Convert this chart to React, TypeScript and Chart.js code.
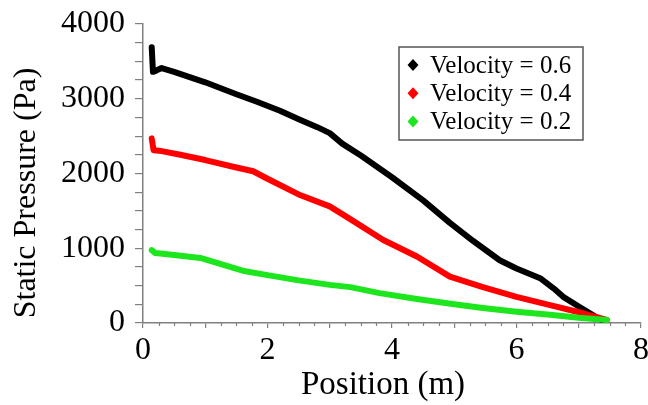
import React, { useEffect, useRef } from "react";
import { Chart, registerables } from "chart.js";

Chart.register(...registerables);

const seriesLabels = ["Velocity = 0.6", "Velocity = 0.4", "Velocity = 0.2"];
const seriesColors = ["#000000", "#ff0000", "#1ee61e"];

const v06X = [0.14, 0.16, 0.22, 0.3, 0.5, 1.0, 1.5, 1.83, 2.2, 2.52, 2.8, 3.0, 3.2, 3.5, 4.0, 4.5, 4.93, 5.3, 5.73, 6.0, 6.38, 6.6, 6.75, 7.0, 7.18, 7.38];
const v06Y = [3690, 3360, 3380, 3410, 3360, 3220, 3060, 2960, 2840, 2720, 2620, 2540, 2400, 2240, 1950, 1640, 1340, 1100, 840, 730, 600, 460, 350, 220, 130, 30];

const v04X = [0.14, 0.17, 0.3, 0.6, 1.0, 1.5, 1.77, 2.0, 2.5, 3.0, 3.33, 3.86, 4.4, 4.93, 5.46, 6.0, 6.54, 7.07, 7.45];
const v04Y = [2470, 2310, 2300, 2250, 2180, 2080, 2030, 1930, 1720, 1560, 1390, 1110, 890, 620, 480, 350, 240, 130, 40];

const v02X = [0.14, 0.2, 0.5, 0.92, 1.2, 1.6, 2.0, 2.5, 3.0, 3.33, 3.8, 4.4, 5.0, 5.46, 6.0, 6.54, 7.0, 7.45];
const v02Y = [975, 935, 910, 870, 800, 700, 640, 570, 510, 480, 400, 320, 250, 200, 150, 110, 70, 40];

const xTickLabels = ["0", "", "2", "", "4", "", "6", "", "8"];
const yTickLabels = ["0", "1000", "2000", "3000", "4000"];
const xTitle = "Position (m)";
const yTitle = "Static Pressure (Pa)";

const FONT = '"Liberation Serif", "Times New Roman", serif';

function toPoints(xs: number[], ys: number[]) {
  return xs.map((x, i) => ({ x, y: ys[i] }));
}

export default function App() {
  const ref = useRef<HTMLCanvasElement>(null);

  useEffect(() => {
    const canvas = ref.current;
    if (!canvas) return;

    const decorPlugin = {
      id: "decor",
      afterDraw(chart: any) {
        const c = chart.ctx;
        const xs = chart.scales.x;
        const area = chart.chartArea;
        c.save();
        // minor x ticks
        c.strokeStyle = "#808080";
        c.lineWidth = 1.2;
        for (let v = 0.25; v < 8; v += 0.25) {
          if (Math.abs(v - Math.round(v)) < 1e-6) continue;
          const px = Math.round(xs.getPixelForValue(v)) + 0.5;
          c.beginPath();
          c.moveTo(px, area.bottom);
          c.lineTo(px, area.bottom + 3);
          c.stroke();
        }
        // axis titles
        c.fillStyle = "#000000";
        c.textAlign = "center";
        c.textBaseline = "middle";
        c.font = `33px ${FONT}`;
        c.fillText(xTitle, 383, 385);
        c.translate(27, 193);
        c.rotate(-Math.PI / 2);
        c.font = `32px ${FONT}`;
        c.fillText(yTitle, 0, 0);
        c.restore();

        // legend box
        const x0 = 399, y0 = 47, w = 184, h = 93;
        c.save();
        c.fillStyle = "#ffffff";
        c.fillRect(x0, y0, w, h);
        c.strokeStyle = "#555555";
        c.lineWidth = 1.5;
        c.strokeRect(x0, y0, w, h);
        c.font = `25px ${FONT}`;
        c.textBaseline = "middle";
        c.textAlign = "left";
        seriesLabels.forEach((lab, i) => {
          const cy = y0 + 18 + i * 28.3;
          const cx = x0 + 14;
          c.fillStyle = seriesColors[i];
          c.beginPath();
          c.moveTo(cx, cy - 6);
          c.lineTo(cx + 5.5, cy);
          c.lineTo(cx, cy + 6);
          c.lineTo(cx - 5.5, cy);
          c.closePath();
          c.fill();
          c.fillStyle = "#000000";
          c.fillText(lab, x0 + 31, cy + 1);
        });
        c.restore();
      },
    };

    const data = [
      toPoints(v06X, v06Y),
      toPoints(v04X, v04Y),
      toPoints(v02X, v02Y),
    ];

    const chart = new Chart(canvas, {
      type: "line",
      data: {
        datasets: seriesLabels.map((label, i) => ({
          label,
          data: data[i],
          borderColor: seriesColors[i],
          backgroundColor: seriesColors[i],
          borderWidth: 6,
          pointRadius: 0,
          tension: 0,
          fill: false,
          borderJoinStyle: "round" as const,
          borderCapStyle: "round" as const,
          order: 2 - i,
        })),
      },
      options: {
        responsive: false,
        animation: false,
        layout: { padding: { top: 24, right: 7, left: 0, bottom: 0 } },
        plugins: {
          legend: { display: false },
          tooltip: { enabled: false },
        },
        scales: {
          x: {
            type: "linear",
            min: 0,
            max: 8,
            ticks: {
              stepSize: 1,
              autoSkip: false,
              maxRotation: 0,
              minRotation: 0,
              padding: 3,
              color: "#000000",
              font: { family: FONT, size: 32 },
              callback: (v: any) => xTickLabels[Math.round(Number(v))] ?? "",
            },
            grid: {
              drawOnChartArea: false,
              drawTicks: true,
              tickLength: 5,
              color: "#808080",
              lineWidth: 1.2,
            },
            border: { color: "#808080", width: 1.5 },
            title: { display: false },
            afterFit: (s: any) => {
              s.height = 82;
              s.paddingLeft = 0;
              s.paddingRight = 0;
            },
          },
          y: {
            type: "linear",
            min: 0,
            max: 4000,
            ticks: {
              stepSize: 250,
              autoSkip: false,
              padding: 10,
              color: "#000000",
              font: { family: FONT, size: 32 },
              callback: (v: any) => {
                const n = Number(v);
                if (n % 1000 === 0) return yTickLabels[n / 1000];
                return "";
              },
            },
            grid: {
              drawOnChartArea: false,
              drawTicks: true,
              tickLength: 8,
              color: "#808080",
              lineWidth: 1.2,
            },
            border: { color: "#808080", width: 1.5 },
            title: { display: false },
            afterFit: (s: any) => {
              s.width = 143;
              s.paddingTop = 0;
              s.paddingBottom = 0;
            },
          },
        },
      },
      plugins: [decorPlugin],
    });

    return () => chart.destroy();
  }, []);

  return (
    <div style={{ position: "fixed", left: 0, top: 0, width: 648, height: 405, background: "#ffffff" }}>
      <canvas ref={ref} width={648} height={405} style={{ display: "block" }} />
    </div>
  );
}
